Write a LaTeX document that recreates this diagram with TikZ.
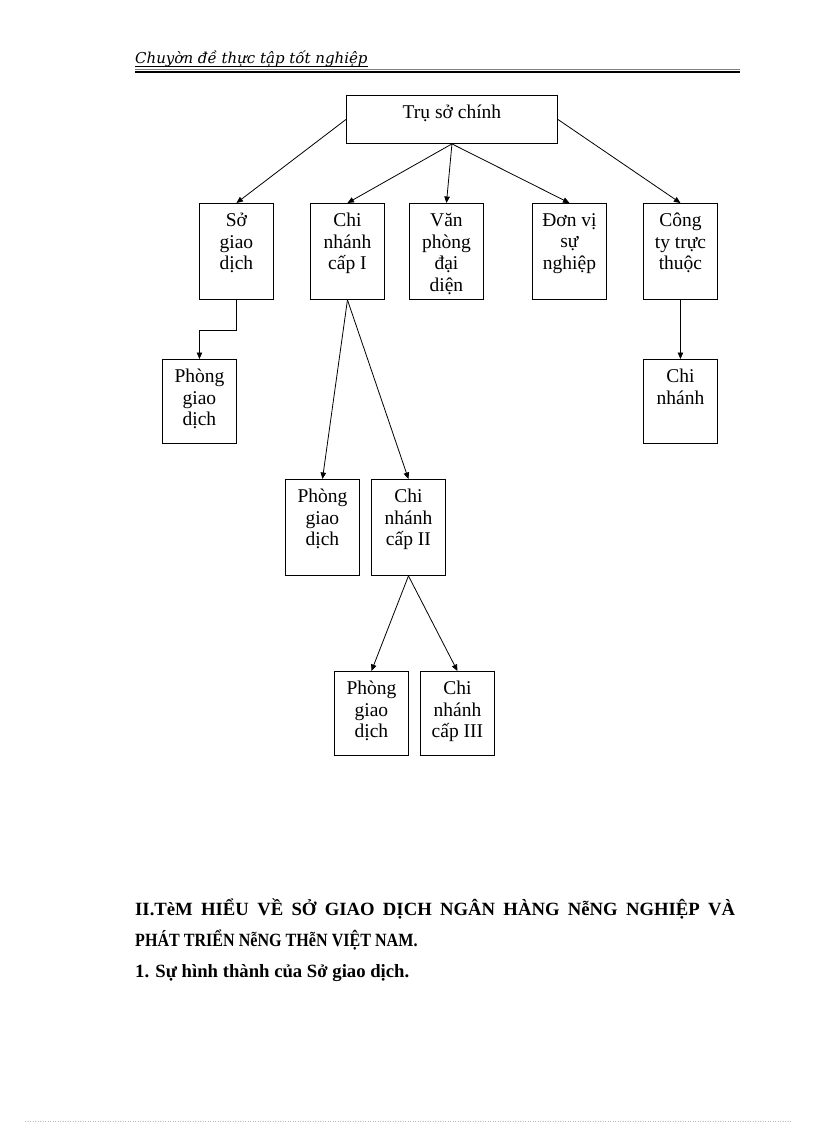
\documentclass[tikz,border=0pt]{standalone}
\usepackage{fontspec}
\setmainfont{Liberation Serif}
\newfontfamily\headfont{DejaVu Serif}
\usetikzlibrary{arrows.meta}

\begin{document}
\begin{tikzpicture}[x=1pt, y=-1pt,
    unit/.style={draw, line width=0.9pt, anchor=north west, minimum width=74pt, minimum height=96pt, inner sep=0pt},
    unittext/.style={anchor=north, align=center, inner sep=0pt, yshift=-10pt, font=\fontsize{19.5}{21.5}\selectfont},
    link/.style={-{Triangle[length=6.5pt, width=5.5pt]}, line width=0.8pt},
    bodytext/.style={anchor=base west, inner sep=0pt, font=\bfseries\fontsize{18.7}{22}\selectfont}]
    \useasboundingbox (0,0) rectangle (816,1123);

    % Header
    \node[anchor=base west, inner sep=0pt, font=\headfont\itshape\fontsize{15}{18}\selectfont] (title) at (135,64) {Chuyờn đề thực tập tốt nghiệp};
    \draw[line width=0.6pt] ([yshift=-2pt]title.base west) -- ([yshift=-2pt]title.base east);
    \draw[gray, line width=0.7pt] (135,69.5) -- (740,69.5);
    \draw[line width=1.2pt] (135,72) -- (740,72);

    % Root
    \node[unit, minimum width=211pt, minimum height=48pt, label={[unittext]north:Trụ sở chính}] (hq) at (346,95) {};

    % First level
    \node[unit, label={[unittext]north:{Sở\\giao\\dịch}}] (sgd) at (199,203) {};
    \node[unit, label={[unittext]north:{Chi\\nhánh\\cấp I}}] (cn1) at (310,203) {};
    \node[unit, label={[unittext]north:{Văn\\phòng\\đại\\diện}}] (vp) at (409,203) {};
    \node[unit, label={[unittext]north:{Đơn vị\\sự\\nghiệp}}] (dv) at (532,203) {};
    \node[unit, label={[unittext]north:{Công\\ty trực\\thuộc}}] (ct) at (643,203) {};

    % Second level
    \node[unit, minimum height=84pt, label={[unittext]north:{Phòng\\giao\\dịch}}] (pgd1) at (162,359) {};
    \node[unit, minimum height=84pt, label={[unittext]north:{Chi\\nhánh}}] (cn) at (643,359) {};
    \node[unit, label={[unittext]north:{Phòng\\giao\\dịch}}] (pgd2) at (285,479) {};
    \node[unit, label={[unittext]north:{Chi\\nhánh\\cấp II}}] (cn2) at (371,479) {};

    % Third level
    \node[unit, minimum height=84pt, label={[unittext]north:{Phòng\\giao\\dịch}}] (pgd3) at (334,671) {};
    \node[unit, minimum height=84pt, label={[unittext]north:{Chi\\nhánh\\cấp III}}] (cn3) at (420,671) {};

    % Arrows
    \draw[link] (hq.west) -- (sgd.north);
    \draw[link] (hq.south) -- (cn1.north);
    \draw[link] (hq.south) -- (vp.north);
    \draw[link] (hq.south) -- (dv.north);
    \draw[link] (hq.east) -- (ct.north);
    \draw[link] (sgd.south) -- ++(0,30) -| (pgd1.north);
    \draw[link] (cn1.south) -- (pgd2.north);
    \draw[link] (cn1.south) -- (cn2.north);
    \draw[link] (ct.south) -- (cn.north);
    \draw[link] (cn2.south) -- (pgd3.north);
    \draw[link] (cn2.south) -- (cn3.north);

    % Text below
    \node[bodytext] (sec) at (135,915) {\makebox[600pt][s]{II.TèM HIỂU VỀ SỞ GIAO DỊCH NGÂN HÀNG NễNG NGHIỆP VÀ}};
    \node[bodytext] (sec2) at (135,946) {\scalebox{0.86}[1]{PHÁT TRIỂN NễNG THễN VIỆT NAM.}};
    \node[bodytext] (sub) at (135,977) {1. Sự hình thành của Sở giao dịch.};

    % Page edge
    \draw[gray!50, dotted, line width=0.5pt] (25,1121) -- (792,1121);
\end{tikzpicture}
\end{document}
